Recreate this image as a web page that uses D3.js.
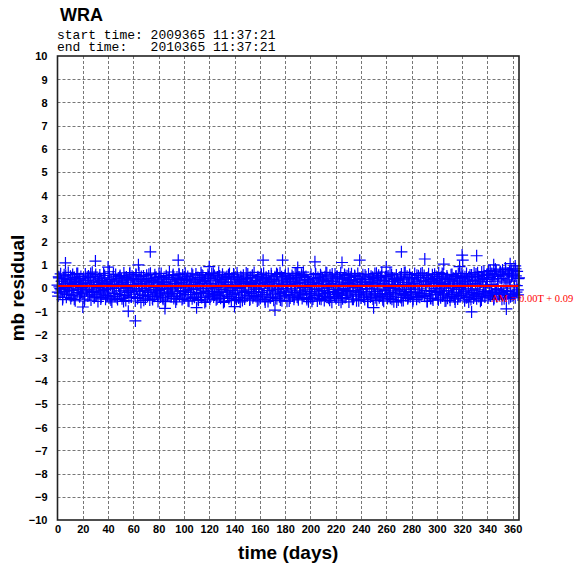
<!DOCTYPE html>
<html>
<head>
<meta charset="utf-8">
<script src="https://cdn.jsdelivr.net/npm/d3@7"></script>
<style>
  html, body { margin: 0; padding: 0; background: #fff; }
  svg { display: block; }
</style>
</head>
<body>
<svg id="chart" width="576" height="566"></svg>
<script>
// ---- data ----
const stationName = "WRA";
const startTime = "2009365 11:37:21";
const endTime = "2010365 11:37:21";
const xTicks = d3.range(0, 361, 20);
const yTicks = d3.range(-10, 11, 1);
const sampleStep = 0.5; // days between samples of the first run
// residuals in hundredths, first run: every half day from day 0
const residuals = [
12,-35,48,5,-22,61,-8,30,-50,18,40,-15,2,55,-40,25,-5,67,-28,10,
35,-45,20,-10,58,-30,8,45,-55,15,28,-20,62,-5,38,-38,12,50,-18,3,
-25,42,18,-48,60,5,-12,33,-35,52,22,-8,45,-52,10,68,-20,27,-42,15,
50,-30,7,38,-58,24,-14,56,0,-40,32,14,-26,63,-6,44,-48,20,9,-33,
26,-18,70,-44,13,36,-60,4,48,-24,17,-36,58,-2,29,-50,42,11,-28,54,
-12,39,-46,23,6,65,-32,16,-54,47,2,-20,35,-42,60,-9,25,-38,51,8,
43,-27,14,-56,59,-4,31,-41,19,66,-16,37,-62,9,28,-33,52,-11,21,-47,
6,55,-29,40,-19,12,-52,64,-7,33,-44,25,3,-36,57,-13,46,-25,18,-58,
30,-10,49,-39,62,-21,15,-48,38,-3,24,-55,53,7,-31,44,-17,69,-26,11,
-37,27,-8,58,-45,20,36,-60,13,47,-23,5,61,-34,41,-14,22,-50,56,1,
17,-43,64,-12,32,-28,50,-6,-57,26,39,-19,10,-46,55,-1,34,-38,23,60,
-30,14,45,-53,8,37,-20,66,-41,19,52,-9,28,-62,43,-15,6,-35,58,-24,
21,-48,40,-4,63,-27,11,-39,54,-16,31,-51,3,47,-22,68,-33,18,-44,36,
-7,59,-29,24,-58,42,9,-18,50,-36,15,-45,62,-10,27,-54,38,2,-26,57,
44,-21,13,-49,65,-3,35,-40,22,-60,48,-12,30,-31,55,7,-47,19,-17,41,
-34,60,-8,26,-52,45,16,-23,53,-42,4,67,-15,33,-37,20,-56,49,-5,29,
11,-44,56,-19,38,-29,64,-1,-50,23,46,-35,14,-58,52,-11,27,-41,61,0,
-26,37,-53,18,49,-14,31,-46,58,-6,21,-38,66,-24,8,-55,43,-2,35,-31,
52,-17,25,-57,12,63,-28,40,-43,16,-9,54,-34,29,-48,6,61,-20,44,-39,
19,-51,47,-13,34,-25,59,-45,3,68,-30,22,-8,50,-42,13,36,-59,27,-16,
-40,58,-22,10,-47,41,24,-33,62,-5,18,-56,45,-27,31,-14,57,-49,7,39,
-11,26,-54,48,-36,15,65,-19,33,-44,1,55,-38,20,-61,42,-7,30,-28,60,
14,-37,51,-23,8,-52,44,-10,66,-32,25,-46,39,-3,58,-41,17,-25,53,-15,
32,-60,19,46,-18,61,-35,9,-48,27,54,-12,36,-55,4,63,-29,42,-21,12,
-43,23,-6,57,-34,37,-50,15,48,-26,7,-58,60,-17,29,-39,51,-4,24,-47,
40,-16,62,-31,18,-53,34,-8,55,-42,13,45,-24,68,-37,21,-57,32,-11,49,
-28,11,-45,52,2,-36,64,-20,28,-49,43,-2,-59,37,16,-30,56,-13,39,-52,
25,-7,47,-41,60,-23,14,-54,35,-15,67,-33,5,51,-46,22,-19,58,-38,9,
-14,44,-57,20,-27,62,-5,38,-49,29,-21,53,12,-40,46,-32,6,65,-24,31,
54,-36,17,-11,43,-58,26,61,-30,8,-45,36,-16,57,-52,19,41,-3,-27,50,
-20,33,-48,66,-9,23,-42,48,15,-34,59,-25,4,-56,39,-12,52,-44,27,10,
36,-53,13,-28,58,-1,42,-37,21,-60,50,-18,31,-47,63,-7,18,-32,45,-22,
7,55,-26,39,-55,17,-13,62,-40,28,-4,47,-35,14,-50,56,-19,33,-43,66,
-31,20,60,-46,11,-24,49,-8,35,-57,26,69,-29,40,-15,53,-39,4,-22,58,
28,-43,72,-12,45,-34,16,63,-25,38,-50,58,8,-20,74,-38,30,-6,50,-28,
68,-22,41,-48,78,-10,55,-32,22,80,-40,35,-15,62,-45,70,5,-26,48,-35,
60,-30,76,12,-42,52,-18,72,-8,40,44
];
// second run: one per day starting at day 0.25 (hundredths)
const residuals2Start = 0.25;
const residuals2Step = 1;
const residuals2 = [
-18,44,-3,29,-41,57,9,-27,36,-12,
51,-33,16,-49,24,62,-8,40,-22,5,
33,-56,21,-6,47,-30,63,-15,10,-38,
58,-21,2,42,-47,26,-11,54,-35,19,
-4,37,-52,15,60,-24,31,-43,8,49,
-29,22,-58,45,-1,34,-17,66,-39,13,
41,-9,55,-45,20,-26,50,-3,-53,28,
12,-37,59,-19,35,-50,24,44,-13,-31,
63,-6,27,-42,17,-59,46,-22,38,1,
-23,53,-36,9,-48,31,58,-16,23,-44,
47,-12,36,-55,14,-28,61,-7,-40,25,
6,-49,43,-24,56,-2,32,-57,19,48,
-35,18,-14,64,-30,39,-46,11,52,-20,
29,-62,8,45,-17,57,-38,22,-9,60,
-26,14,48,-43,3,36,-54,27,-19,65,
39,-15,-47,23,55,-33,10,-5,44,-51,
18,59,-27,34,-60,41,-10,25,-42,52,
-8,30,-44,62,-21,7,-52,49,16,-34,
57,-18,26,-56,38,-4,47,-39,13,63,
-41,24,-13,53,-29,45,2,-50,34,-23,
15,-57,42,-7,59,-32,20,-46,51,-1,
35,-24,67,-40,11,-53,28,60,-16,-36,
-45,48,-20,17,-61,38,-6,54,-31,23,
61,-11,33,-48,4,50,-27,14,-55,42,
-17,27,-39,56,-3,-58,37,21,-25,46,
9,-42,64,-14,31,-35,52,-51,18,-8,
50,-30,12,-44,58,-22,40,-2,-60,33,
-12,39,-54,24,66,-28,16,-41,45,-6,
43,-49,20,-19,55,-37,7,61,-24,30,
-33,15,-58,47,-10,36,-45,26,59,-16,
26,-51,38,-4,63,-26,19,-55,44,-12,
-39,57,-21,11,-47,52,30,-34,3,62,
22,-14,49,-42,34,-60,56,-9,27,-30,
48,-25,66,-37,14,-52,42,71,-18,36,
60,-33,75,-14,52,-44,82,-5,39,-28,
70,-20,58,-46,86,-12,64,30,-38,77,
55,-25,83,10,-30
];
// isolated points: [day, residual]
const extraPoints = [
[6.3,1.08],[30,1.16],[56,-1.0],[61.6,-1.42],[64,1.0],[73.4,1.56],[95.5,1.2],
[162.6,1.2],[178,1.2],[203.6,1.13],[225,1.1],[239,1.2],[272,1.56],[290.5,1.25],
[305.5,1.03],[318,0.92],[320,1.42],[320.5,1.2],[327.5,-1.03],[331.5,1.39],
[172,-0.95],[110,-0.85],[250,-0.85],[20,-0.82],[140,-0.8],[355,-0.9],[85,-0.88],
[40,0.9],[120,0.92],[190,0.88],[260,0.9],[345,1.0],[358,1.05],[362,0.95]
];
const fitSlope = 0.00;
const fitIntercept = 0.09;
const fitLabel = "AM = 0.00T + 0.09";

// ---- layout ----
const svg = d3.select("#chart");
const L = 57.5, R = 519, T = 56, B = 520;
const x = d3.scaleLinear().domain([0, 365]).range([L, R]);
const y = d3.scaleLinear().domain([-10, 10]).range([B, T]);

const points = residuals.map((v, i) => [i * sampleStep, v / 100])
  .concat(residuals2.map((v, i) => [residuals2Start + i * residuals2Step, v / 100]))
  .concat(extraPoints);

// grid
const grid = svg.append("g").attr("stroke", "#777").attr("stroke-width", 1).attr("stroke-dasharray", "3,2");
grid.selectAll("line.v").data(xTicks.filter(d => d > 0)).join("line")
  .attr("x1", d => Math.round(x(d)) + 0.5).attr("x2", d => Math.round(x(d)) + 0.5)
  .attr("y1", T).attr("y2", B);
grid.selectAll("line.h").data(yTicks.filter(d => d > -10 && d < 10)).join("line")
  .attr("y1", d => Math.round(y(d)) + 0.5).attr("y2", d => Math.round(y(d)) + 0.5)
  .attr("x1", L).attr("x2", R);

// points as crosses
const cs = 6;
const pg = svg.append("g").attr("stroke", "#0000ff").attr("stroke-width", 1.2).attr("fill", "none");
pg.selectAll("path").data(points).join("path")
  .attr("d", d => {
    const px = x(d[0]), py = y(d[1]);
    return `M${px - cs},${py}H${px + cs}M${px},${py - cs}V${py + cs}`;
  });

// fit line
svg.append("line")
  .attr("x1", x(0)).attr("x2", x(365))
  .attr("y1", y(fitIntercept + fitSlope * 0)).attr("y2", y(fitIntercept + fitSlope * 365))
  .attr("stroke", "#ff0000").attr("stroke-width", 2);

// frame
svg.append("rect").attr("x", L).attr("y", T).attr("width", R - L).attr("height", B - T)
  .attr("fill", "none").attr("stroke", "#222").attr("stroke-width", 1.6);

svg.append("text")
  .attr("x", 491).attr("y", 302)
  .attr("font-family", "'Liberation Serif', 'Times New Roman', serif")
  .attr("font-size", 10.5).attr("fill", "#ff0000")
  .text(fitLabel);

// axes labels (ticks)
const axX = d3.axisBottom(x).tickValues(xTicks).tickSize(0).tickPadding(0).tickFormat(d3.format("d"));
const gx = svg.append("g").attr("transform", `translate(0,${B})`).call(axX);
gx.select(".domain").remove();
gx.selectAll("text").attr("y", 13).attr("dy", 0)
  .attr("font-family", "'Liberation Sans', Arial, sans-serif").attr("font-weight", "bold").attr("font-size", 11).attr("fill", "#000");

const axY = d3.axisLeft(y).tickValues(yTicks).tickSize(0).tickPadding(0).tickFormat(d3.format("d"));
const gy = svg.append("g").attr("transform", `translate(${L - 10},0)`).call(axY);
gy.select(".domain").remove();
gy.selectAll("text").attr("dy", "0.35em")
  .attr("font-family", "'Liberation Sans', Arial, sans-serif").attr("font-weight", "bold").attr("font-size", 11).attr("fill", "#000");

// titles
svg.append("text").attr("x", 60).attr("y", 21)
  .attr("font-family", "'Liberation Sans', Arial, sans-serif").attr("font-weight", "bold").attr("font-size", 18)
  .text(stationName);
svg.append("text").attr("x", 57).attr("y", 39).attr("xml:space", "preserve").style("white-space", "pre")
  .attr("font-family", "'Liberation Mono', 'DejaVu Sans Mono', monospace").attr("font-size", 13)
  .text("start time: " + startTime);
svg.append("text").attr("x", 57).attr("y", 51).attr("xml:space", "preserve").style("white-space", "pre")
  .attr("font-family", "'Liberation Mono', 'DejaVu Sans Mono', monospace").attr("font-size", 13)
  .text("end time:   " + endTime);

svg.append("text").attr("x", (L + R) / 2).attr("y", 559).attr("text-anchor", "middle")
  .attr("font-family", "'Liberation Sans', Arial, sans-serif").attr("font-weight", "bold").attr("font-size", 19)
  .text("time (days)");
svg.append("text").attr("transform", `translate(24,${(T + B) / 2}) rotate(-90)`).attr("text-anchor", "middle")
  .attr("font-family", "'Liberation Sans', Arial, sans-serif").attr("font-weight", "bold").attr("font-size", 19)
  .text("mb residual");
</script>
</body>
</html>
